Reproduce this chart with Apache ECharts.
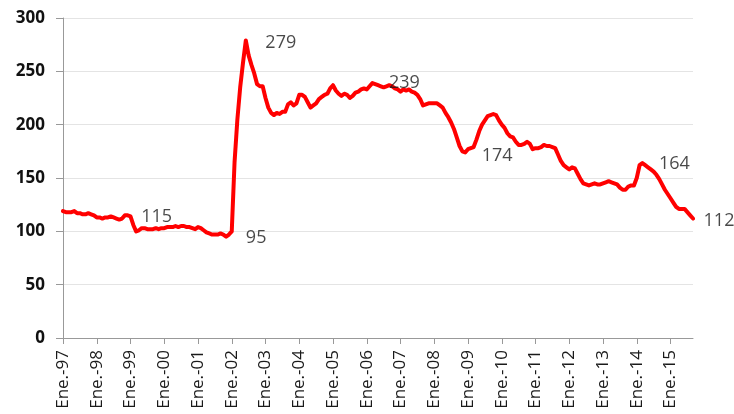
<!DOCTYPE html>
<html>
<head>
<meta charset="utf-8">
<script src="https://cdn.jsdelivr.net/npm/echarts@6/dist/echarts.min.js"></script>
<style>html,body{margin:0;padding:0;background:#fff}#c{width:734px;height:414px}</style>
</head>
<body>
<div id="c"></div>
<script>
const years = ['97','98','99','00','01','02','03','04','05','06','07','08','09','10','11','12','13','14','15'];
const y1997 = [119,118,118,118,119,117,117,116,116,117,116,115];
const y1998 = [113,113,112,113,113,114,113,112,111,112,115,115];
const y1999 = [114,106,100,101,103,103,102,102,102,103,102,103];
const y2000 = [103,104,104,104,105,104,105,105,104,104,103,102];
const y2001 = [104,103,101,99,98,97,97,97,98,97,95,97];
const y2002 = [100,165,205,235,258,279,265,256,248,238,236,236];
const y2003 = [225,216,211,209,211,210,212,212,219,221,218,220];
const y2004 = [228,228,226,221,216,218,220,224,226,228,229,234];
const y2005 = [237,232,229,227,229,228,225,227,230,231,233,234];
const y2006 = [233,236,239,238,237,236,235,236,237,236,234,233];
const y2007 = [231,233,232,233,231,230,228,224,218,219,220,220];
const y2008 = [220,220,218,216,211,207,202,196,188,180,175,174];
const y2009 = [177,178,179,186,194,200,204,208,209,210,209,204];
const y2010 = [200,197,192,189,188,184,181,181,182,184,182,177];
const y2011 = [178,178,179,181,180,180,179,178,172,166,162,160];
const y2012 = [158,160,159,154,149,145,144,143,144,145,144,144];
const y2013 = [145,146,147,146,145,144,141,139,139,142,143,143];
const y2014 = [150,162,164,162,160,158,156,153,149,144,139,135];
const y2015 = [131,127,123,121,121,121,118,115,112];
// annotated points: [month index, label offset x, offset y]
const annotations = [[23,29,2],[58,30,1],[65,35,2],[110,32,0],[143,32,3],[206,32,1],[224,26,2]];

const values = [].concat(y1997,y1998,y1999,y2000,y2001,y2002,y2003,y2004,y2005,y2006,y2007,y2008,y2009,y2010,y2011,y2012,y2013,y2014,y2015);
const categories = values.map((v,i) => 'Ene.-' + years[Math.floor(i/12)] + '#' + (i%12));
const annData = annotations.map(a => ({
  value: [a[0], values[a[0]]],
  label: {show: true, position: [a[1] + 1, a[2] + 1], align: 'center', verticalAlign: 'middle',
    color: '#1a1a1a', fontSize: 18, fontFamily: 'Open Sans', formatter: String(values[a[0]])}
}));

const chart = echarts.init(document.getElementById('c'));
chart.setOption({
  animation: false,
  grid: {left: 63, right: 41, top: 18, bottom: 76, containLabel: false},
  xAxis: {
    type: 'category', data: categories, boundaryGap: false,
    axisLine: {lineStyle: {color: '#999', width: 1}},
    axisTick: {interval: (i) => i % 12 === 0, length: 6, lineStyle: {color: '#999'}},
    axisLabel: {interval: (i) => i % 12 === 0, rotate: 90, margin: 12, fontSize: 17,
      fontFamily: 'Open Sans', color: '#1a1a1a', formatter: (v) => v.split('#')[0]},
    splitLine: {show: false}
  },
  yAxis: {
    type: 'value', min: 0, max: 300, interval: 50,
    axisLine: {show: true, lineStyle: {color: '#999'}},
    axisTick: {show: true, length: 7, lineStyle: {color: '#999'}},
    axisLabel: {margin: 18, fontSize: 17, fontWeight: 'bold', fontFamily: 'Open Sans', color: '#111'},
    splitLine: {lineStyle: {color: '#e4e4e4', width: 1}}
  },
  series: [{
    type: 'line', data: values, showSymbol: false,
    lineStyle: {color: '#ff0000', width: 4, join: 'round', cap: 'round'},
    itemStyle: {color: '#ff0000'},
    emphasis: {disabled: true}
  }, {
    type: 'scatter', data: annData, symbolSize: 2,
    itemStyle: {color: 'rgba(255,0,0,0)'},
    labelLayout: {hideOverlap: false},
    emphasis: {disabled: true},
    z: 3
  }]
});
</script>
</body>
</html>
